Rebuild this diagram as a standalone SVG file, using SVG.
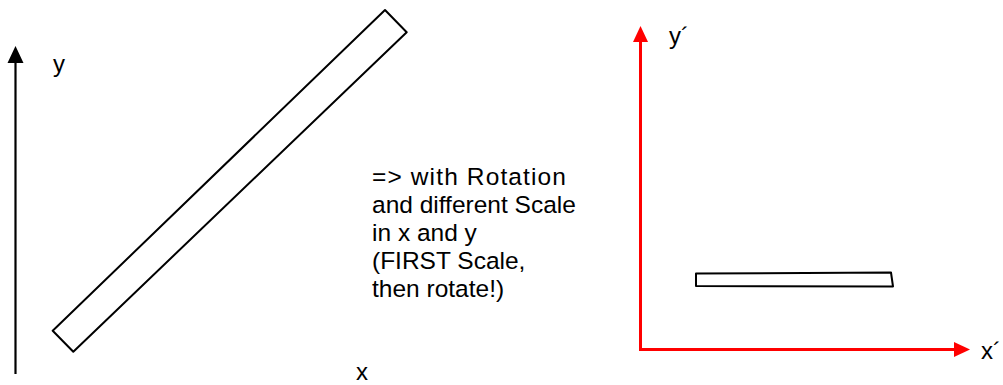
<svg xmlns="http://www.w3.org/2000/svg" width="1003" height="385" viewBox="0 0 1003 385">
<style>
text{font-family:"Liberation Sans",Arial,sans-serif;fill:#000}
.lbl{font-size:24px}
.body{font-size:24.5px}
.bar{fill:#fff;stroke:#000;stroke-width:2;stroke-linejoin:round}
</style>
<rect width="1003" height="385" fill="#fff"/>
<g id="connectors">
<line x1="15.5" y1="374" x2="15.5" y2="60" stroke="#000" stroke-width="2.2"/>
<polygon points="15.5,46 23.5,63 7.5,63" fill="#000"/>
<line x1="640.5" y1="351" x2="640.5" y2="40" stroke="#f00" stroke-width="3"/>
<polygon points="640.5,26 648,42 633,42" fill="#f00"/>
<line x1="639" y1="349.5" x2="956" y2="349.5" stroke="#f00" stroke-width="3"/>
<polygon points="970,349.5 954,342 954,357" fill="#f00"/>
</g>
<g id="bar-rotated">
<polygon class="bar" points="385,10 406.7,32.3 73.3,351.7 52.7,330.7"/>
</g>
<g id="bar-scaled">
<polygon class="bar" points="696,273.5 891,272.5 893,286.5 696,286"/>
</g>
<g id="labels">
<text class="lbl" x="53" y="72">y</text>
<text class="lbl" x="356" y="380">x</text>
<text class="lbl" x="669" y="44">y´</text>
<text class="lbl" x="981" y="359">x´</text>
</g>
<g id="note">
<text class="body" x="372" y="185" textLength="194" lengthAdjust="spacing">=&gt; with Rotation</text>
<text class="body" x="372" y="213">and different Scale</text>
<text class="body" x="372" y="241">in x and y</text>
<text class="body" x="372" y="269">(FIRST Scale,</text>
<text class="body" x="372" y="297">then rotate!)</text>
</g>
</svg>
